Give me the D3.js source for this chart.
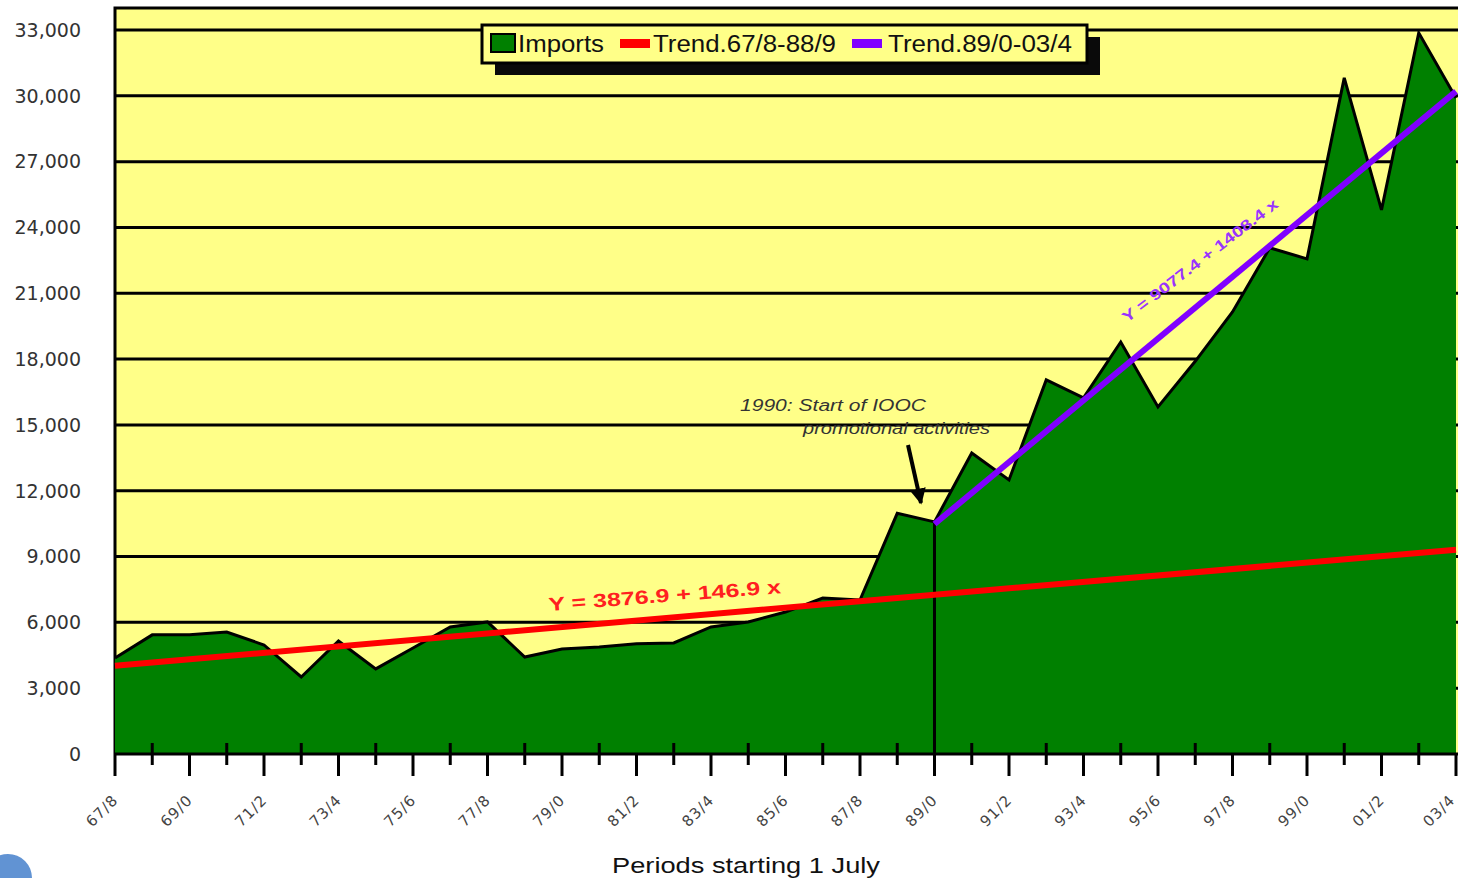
<!DOCTYPE html>
<html>
<head>
<meta charset="utf-8">
<script src="https://cdn.jsdelivr.net/npm/d3@7"></script>
<style>
  body { margin: 0; background: #fff; }
  svg { display: block; }
</style>
</head>
<body>
<svg id="chart"></svg>
<script>
// periods starting 1 July, 1967/8 .. 2003/4
const periods = ["67/8","68/9","69/0","70/1","71/2","72/3","73/4","74/5","75/6","76/7",
                 "77/8","78/9","79/0","80/1","81/2","82/3","83/4","84/5","85/6","86/7",
                 "87/8","88/9","89/0","90/1","91/2","92/3","93/4","94/5","95/6","96/7",
                 "97/8","98/9","99/0","00/1","01/2","02/3","03/4"];
const imports = [4380, 5430, 5430, 5560, 4970, 3510, 5150, 3880, 4830, 5790,
                 6020, 4420, 4790, 4880, 5020, 5060, 5790, 6020, 6470, 7110,
                 7020, 10970, 10580, 13720, 12490, 17050, 16230, 18780, 15820, 17900,
                 20150, 23070, 22570, 30820, 24800, 32870, 29900];
const yTicks = [0, 3000, 6000, 9000, 12000, 15000, 18000, 21000, 24000, 27000, 30000, 33000];
// trend end points (as drawn)
const trendOld = [{p: "67/8", v: 4024}, {p: "03/4", v: 9312}];
const trendNew = [{p: "89/0", v: 10486}, {p: "03/4", v: 30203}];
const legendItems = ["Imports", "Trend.67/8-88/9", "Trend.89/0-03/4"];

const W = 1458, H = 878;
const plot = {left: 115, right: 1456, top: 8, bottom: 754};

const svg = d3.select("#chart").attr("width", W).attr("height", H);

const x = d3.scalePoint().domain(periods).range([plot.left, plot.right]);
const y = d3.scaleLinear().domain([0, 33000]).range([plot.bottom, 30]);

// plot background
svg.append("rect")
    .attr("x", plot.left).attr("y", plot.top)
    .attr("width", plot.right - plot.left + 2).attr("height", plot.bottom - plot.top)
    .attr("fill", "#ffff88");

// gridlines
svg.append("g").selectAll("line")
    .data(yTicks.filter(d => d > 0))
    .join("line")
    .attr("x1", plot.left).attr("x2", plot.right + 2)
    .attr("y1", d => y(d)).attr("y2", d => y(d))
    .attr("stroke", "#000").attr("stroke-width", 3);

// top + left border
svg.append("path")
    .attr("d", `M${plot.left},${plot.bottom}V${plot.top}H${W}`)
    .attr("fill", "none").attr("stroke", "#000").attr("stroke-width", 3);

// imports area
const area = d3.area()
    .x((d, i) => x(periods[i]))
    .y0(plot.bottom)
    .y1(d => y(d));
svg.append("path")
    .datum(imports)
    .attr("d", area)
    .attr("fill", "#008000");
svg.append("path")
    .datum(imports)
    .attr("d", d3.line().x((d, i) => x(periods[i])).y(d => y(d)))
    .attr("fill", "none").attr("stroke", "#000").attr("stroke-width", 3)
    .attr("stroke-linejoin", "miter");

// vertical line at 89/0
svg.append("line")
    .attr("x1", x("89/0")).attr("x2", x("89/0"))
    .attr("y1", y(imports[periods.indexOf("89/0")])).attr("y2", plot.bottom)
    .attr("stroke", "#000").attr("stroke-width", 3);

// trend lines
const tline = d3.line().x(d => x(d.p)).y(d => y(d.v));
svg.append("path").datum(trendOld).attr("d", tline)
    .attr("stroke", "#ff0000").attr("stroke-width", 6).attr("fill", "none");
svg.append("path").datum(trendNew).attr("d", tline)
    .attr("stroke", "#8000ff").attr("stroke-width", 6).attr("fill", "none");

// trend equations
svg.append("text")
    .attr("transform", `translate(549,611) rotate(-4.4)`)
    .attr("font-family", "Liberation Sans, Arial, sans-serif")
    .attr("font-size", 19).attr("font-weight", "bold")
    .attr("fill", "#ff2020")
    .attr("textLength", 233).attr("lengthAdjust", "spacingAndGlyphs")
    .text("Y = 3876.9 + 146.9 x");
svg.append("text")
    .attr("transform", `translate(1127,323) rotate(-37.5)`)
    .attr("font-family", "Liberation Sans, Arial, sans-serif")
    .attr("font-size", 15).attr("font-weight", "bold")
    .attr("fill", "#9933ff")
    .attr("textLength", 192).attr("lengthAdjust", "spacingAndGlyphs")
    .text("Y = 9077.4 + 1408.4 x");

// annotation
const ann = svg.append("g")
    .attr("font-family", "Liberation Sans, Arial, sans-serif")
    .attr("font-size", 16).attr("font-style", "italic").attr("fill", "#333");
ann.append("text").attr("x", 740).attr("y", 411)
    .attr("textLength", 186).attr("lengthAdjust", "spacingAndGlyphs")
    .text("1990:  Start of IOOC");
ann.append("text").attr("x", 803).attr("y", 434)
    .attr("textLength", 187).attr("lengthAdjust", "spacingAndGlyphs")
    .text("promotional activities");
svg.append("defs").append("marker")
    .attr("id", "arrow").attr("viewBox", "0 0 10 10")
    .attr("refX", 9).attr("refY", 5)
    .attr("markerWidth", 4).attr("markerHeight", 4)
    .attr("orient", "auto")
    .append("path").attr("d", "M0,0L10,5L0,10z").attr("fill", "#000");
svg.append("line")
    .attr("x1", 908).attr("y1", 445).attr("x2", 921).attr("y2", 503)
    .attr("stroke", "#000").attr("stroke-width", 4)
    .attr("marker-end", "url(#arrow)");

// y labels
svg.append("g").selectAll("text")
    .data(yTicks)
    .join("text")
    .attr("x", 81).attr("y", d => y(d))
    .attr("dy", "0.36em")
    .attr("text-anchor", "end")
    .attr("font-family", "DejaVu Sans, sans-serif")
    .attr("font-size", 19).attr("fill", "#333")
    .text(d => d3.format(",")(d));

// x axis line + ticks
svg.append("line")
    .attr("x1", plot.left).attr("x2", W)
    .attr("y1", plot.bottom).attr("y2", plot.bottom)
    .attr("stroke", "#000").attr("stroke-width", 3);
svg.append("g").selectAll("line")
    .data(periods)
    .join("line")
    .attr("x1", d => x(d)).attr("x2", d => x(d))
    .attr("y1", (d, i) => i % 2 ? 743 : plot.bottom)
    .attr("y2", (d, i) => i % 2 ? 765 : 776)
    .attr("stroke", "#000").attr("stroke-width", 3);
svg.append("g").selectAll("text")
    .data(periods.filter((d, i) => i % 2 === 0))
    .join("text")
    .attr("transform", d => `translate(${Math.min(x(d) + 4, 1456)},${801}) rotate(-45)`)
    .attr("text-anchor", "end")
    .attr("font-family", "DejaVu Sans, sans-serif")
    .attr("font-size", 15).attr("fill", "#444")
    .attr("letter-spacing", 1)
    .text(d => d);

// x title
svg.append("text")
    .attr("x", 612).attr("y", 873)
    .attr("font-family", "Liberation Sans, Arial, sans-serif")
    .attr("font-size", 22).attr("fill", "#111")
    .attr("textLength", 268).attr("lengthAdjust", "spacingAndGlyphs")
    .text("Periods  starting  1  July");

// legend
const lg = svg.append("g");
lg.append("rect").attr("x", 495).attr("y", 37).attr("width", 605).attr("height", 38).attr("fill", "#0a0a0a");
lg.append("rect").attr("x", 482).attr("y", 25).attr("width", 605).attr("height", 38)
    .attr("fill", "#ffff88").attr("stroke", "#000").attr("stroke-width", 3);
const lgColors = ["#008000", "#ff0000", "#8000ff"];
const lgSw = [{x: 491, w: 24}, {x: 620, w: 30}, {x: 852, w: 30}];
const lgTx = [{x: 518, w: 86}, {x: 653, w: 183}, {x: 888, w: 184}];
lgSw.forEach((s, i) => {
    lg.append("rect")
        .attr("x", s.x).attr("y", i === 0 ? 34 : 39)
        .attr("width", s.w).attr("height", i === 0 ? 18 : 9)
        .attr("fill", lgColors[i])
        .attr("stroke", i === 0 ? "#000" : "none").attr("stroke-width", 2);
});
legendItems.forEach((t, i) => {
    lg.append("text")
        .attr("x", lgTx[i].x).attr("y", 52)
        .attr("font-family", "Liberation Sans, Arial, sans-serif")
        .attr("font-size", 23).attr("fill", "#111")
        .attr("textLength", lgTx[i].w).attr("lengthAdjust", "spacingAndGlyphs")
        .text(t);
});

// small globe icon, bottom-left corner
svg.append("circle").attr("cx", 8).attr("cy", 878).attr("r", 24)
    .attr("fill", "#3a78c8").attr("opacity", 0.8);
</script>
</body>
</html>
